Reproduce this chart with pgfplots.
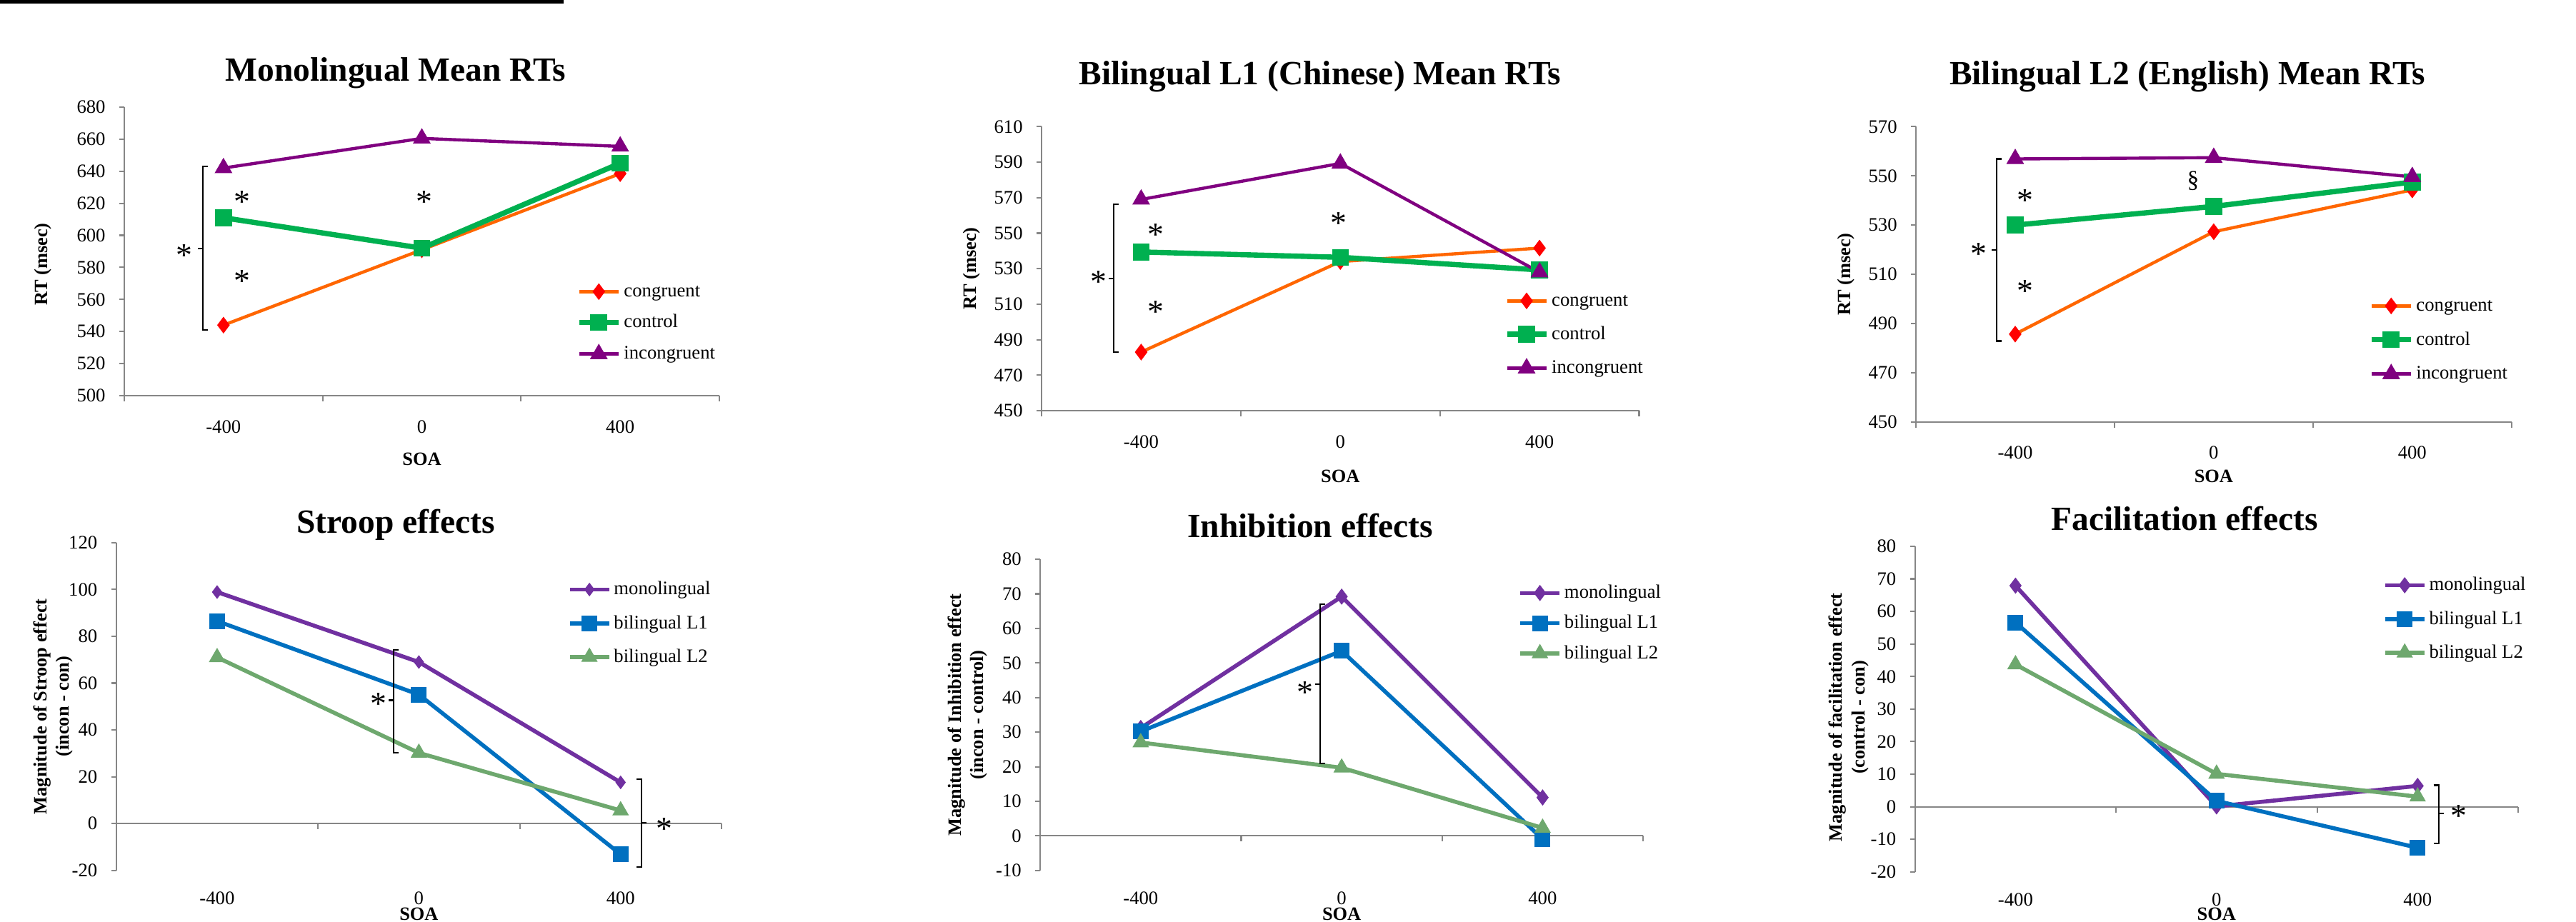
\documentclass[border=0pt]{standalone}
\usepackage{fontspec}
\setmainfont{Liberation Serif}
\usepackage{pgfplots}
\pgfplotsset{compat=1.18}
\definecolor{axgray}{RGB}{134,134,134}
\definecolor{corange}{RGB}{255,102,0}
\definecolor{cred}{RGB}{255,0,0}
\definecolor{cgreen}{RGB}{0,176,80}
\definecolor{cpurple}{RGB}{128,0,128}
\definecolor{bpurple}{RGB}{112,48,160}
\definecolor{bblue}{RGB}{0,112,192}
\definecolor{bgreen}{RGB}{110,168,110}
\newcommand\tk{\fontsize{7.6pt}{9pt}\selectfont}
\newcommand\lbl{\bfseries\fontsize{7.5pt}{9pt}\selectfont}
\newcommand\ttl{\bfseries\fontsize{13.5pt}{16pt}\selectfont}
\newcommand\ls{\vrule height 2.0mm depth 0.6mm width 0pt}
\tikzset{brk/.style={black, line width=0.6pt},
  star/.style={inner sep=0pt, anchor=center, yshift=-1.6pt, font=\fontsize{13pt}{13pt}\selectfont}}
% x axis line with ticks at category boundaries
\newcommand\xaxisline[1]{%
  \draw[axgray, line width=0.6pt] (axis cs:-0.5,#1) -- (axis cs:2.5,#1);
  \draw[axgray, line width=0.6pt] (axis cs:-0.5,#1) -- ([yshift=-0.8mm]axis cs:-0.5,#1);
  \draw[axgray, line width=0.6pt] (axis cs:0.5,#1) -- ([yshift=-0.8mm]axis cs:0.5,#1);
  \draw[axgray, line width=0.6pt] (axis cs:1.5,#1) -- ([yshift=-0.8mm]axis cs:1.5,#1);
  \draw[axgray, line width=0.6pt] (axis cs:2.5,#1) -- ([yshift=-0.8mm]axis cs:2.5,#1);}
% bracket opening right, middle tick left: x, top, bottom, mid
\newcommand\brR[4]{%
  \draw[brk] ([xshift=0.7mm]axis cs:#1,#2) -- (axis cs:#1,#2) -- (axis cs:#1,#3) -- ([xshift=0.7mm]axis cs:#1,#3);
  \draw[brk] (axis cs:#1,#4) -- ([xshift=-0.7mm]axis cs:#1,#4);}
% bracket opening left, middle tick right
\newcommand\brL[4]{%
  \draw[brk] ([xshift=-0.7mm]axis cs:#1,#2) -- (axis cs:#1,#2) -- (axis cs:#1,#3) -- ([xshift=-0.7mm]axis cs:#1,#3);
  \draw[brk] (axis cs:#1,#4) -- ([xshift=0.7mm]axis cs:#1,#4);}
\pgfplotsset{
  panel/.style={
    scale only axis, anchor=south west,
    axis x line*=bottom, axis y line*=left,
    x axis line style={draw=none},
    y axis line style={draw=axgray, line width=0.6pt},
    xmin=-0.5, xmax=2.5,
    xtick={0,1,2}, xticklabels={-400,0,400},
    x tick style={draw=none},
    y tick style={draw=axgray, line width=0.6pt},
    tick align=outside, major tick length=0.7mm,
    tick label style={font=\tk},
    /pgf/number format/assume math mode=true,
    yticklabel style={xshift=-0.7mm},
    xticklabel style={yshift=-1.5mm},
    clip=false,
    every axis title/.style={font=\ttl, anchor=base},
    every axis y label/.style={rotate=90, anchor=center, font=\lbl, align=center},
    every axis x label/.style={at={(axis description cs:0.5,0)}, anchor=center, font=\lbl},
    xlabel={SOA},
    legend style={draw=none, fill=none, inner sep=0pt, outer sep=0pt, anchor=west,
      font=\tk, nodes={inner sep=0pt}, column sep=0.4mm},
    legend cell align=left,
    legend image code/.code={\draw[mark repeat=2,mark phase=2] plot coordinates {(0mm,0mm) (2.75mm,0mm) (5.5mm,0mm)};},
  },
  lowpanel/.style={xticklabel style={yshift=0.45mm}, xlabel style={inner sep=0pt}},
  cong/.style={corange, line width=1.25pt, mark=diamond*, mark size=3.1pt, mark options={fill=cred, draw=cred, line width=0.3pt}},
  ctrl/.style={cgreen, line width=2.1pt, mark=square*, mark size=3.2pt, mark options={fill=cgreen, draw=cgreen, line width=0.3pt}},
  inc/.style={cpurple, line width=1.25pt, mark=triangle*, mark size=3.8pt, mark options={fill=cpurple, draw=cpurple, line width=0.3pt}},
  mono/.style={bpurple, line width=1.6pt, mark=diamond*, mark size=3.0pt, mark options={fill=bpurple, draw=bpurple, line width=0.3pt}},
  bone/.style={bblue, line width=1.6pt, mark=square*, mark size=3.0pt, mark options={fill=bblue, draw=bblue, line width=0.3pt}},
  btwo/.style={bgreen, line width=1.6pt, mark=triangle*, mark size=3.5pt, mark options={fill=bgreen, draw=bgreen, line width=0.3pt}},
}
\begin{document}
\begin{tikzpicture}
\fill[black] (0mm,129mm) rectangle (78.9mm,128.54mm);
% ---------------- Panel 1: Monolingual Mean RTs
\begin{axis}[panel, at={(17.4mm,73.6mm)}, width=83.3mm, height=40.4mm,
  ymin=500, ymax=680, ytick={500,520,...,680},
  title={Monolingual Mean RTs}, title style={at={(axis description cs:0.456,1)}, yshift=3.6mm},
  ylabel={RT (msec)}, ylabel style={at={(axis description cs:-0.137,0.455)}},
  xlabel style={yshift=-8.9mm},
  legend style={at={(axis description cs:0.760,0.2525)}, row sep=1.8mm}]
\xaxisline{500}
\addplot[cong] coordinates {(0,544) (1,591) (2,638.5)};
\addlegendentry{\ls congruent}
\addplot[ctrl] coordinates {(0,611) (1,592) (2,645)};
\addlegendentry{\ls control}
\addplot[inc] coordinates {(0,642) (1,660.5) (2,655.5)};
\addlegendentry{\ls incongruent}
\brR{-0.104}{642.9}{541.1}{591.6}
\node[star] at (axis cs:-0.196,590.2) {*};
\node[star] at (axis cs:0.093,623.5) {*};
\node[star] at (axis cs:0.093,573.8) {*};
\node[star] at (axis cs:1.013,623.5) {*};
\end{axis}
% ---------------- Panel 2: Bilingual L1
\begin{axis}[panel, at={(145.8mm,71.5mm)}, width=83.65mm, height=39.76mm,
  ymin=450, ymax=610, ytick={450,470,...,610},
  title={Bilingual L1 (Chinese) Mean RTs}, title style={at={(axis description cs:0.466,1)}, yshift=5.84mm},
  ylabel={RT (msec)}, ylabel style={at={(axis description cs:-0.117,0.5)}},
  xlabel style={yshift=-9.2mm},
  legend style={at={(axis description cs:0.7744,0.268)}, row sep=2.15mm}]
\xaxisline{450}
\addplot[cong] coordinates {(0,483) (1,534) (2,541.6)};
\addlegendentry{\ls congruent}
\addplot[ctrl] coordinates {(0,539.4) (1,536.4) (2,529.3)};
\addlegendentry{\ls control}
\addplot[inc] coordinates {(0,569) (1,589.3) (2,528)};
\addlegendentry{\ls incongruent}
\brR{-0.139}{566.3}{483}{524.6}
\node[star] at (axis cs:-0.215,525) {*};
\node[star] at (axis cs:0.074,551.3) {*};
\node[star] at (axis cs:0.074,508) {*};
\node[star] at (axis cs:0.99,558) {*};
\end{axis}
% ---------------- Panel 3: Bilingual L2
\begin{axis}[panel, at={(268.2mm,69.92mm)}, width=83.37mm, height=41.34mm,
  ymin=450, ymax=570, ytick={450,470,...,570},
  title={Bilingual L2 (English) Mean RTs}, title style={at={(axis description cs:0.456,1)}, yshift=5.84mm},
  ylabel={RT (msec)}, ylabel style={at={(axis description cs:-0.117,0.5)}},
  xlabel style={yshift=-7.6mm},
  legend style={at={(axis description cs:0.7605,0.2777)}, row sep=2.2mm}]
\xaxisline{450}
\addplot[cong] coordinates {(0,485.7) (1,527.3) (2,544.3)};
\addlegendentry{\ls congruent}
\addplot[ctrl] coordinates {(0,530) (1,537.6) (2,547.5)};
\addlegendentry{\ls control}
\addplot[inc] coordinates {(0,556.9) (1,557.4) (2,549.6)};
\addlegendentry{\ls incongruent}
\brR{-0.094}{556.9}{482.9}{519.8}
\node[star] at (axis cs:-0.183,519.8) {*};
\node[star] at (axis cs:0.05,541.8) {*};
\node[star] at (axis cs:0.05,504.8) {*};
\node[inner sep=0pt, anchor=center, font=\fontsize{9.5pt}{10pt}\selectfont] at (axis cs:0.896,547.9) {\S};
\end{axis}
% ---------------- Panel 4: Stroop effects
\begin{axis}[panel, lowpanel, at={(16.27mm,7.12mm)}, width=84.73mm, height=45.9mm,
  ymin=-20, ymax=120, ytick={-20,0,...,120},
  title={Stroop effects}, title style={at={(axis description cs:0.462,1)}, yshift=1.36mm},
  ylabel={Magnitude of Stroop effect\\(incon - con)}, ylabel style={at={(axis description cs:-0.104,0.5)}},
  xlabel style={yshift=-6.15mm},
  legend style={at={(axis description cs:0.746,0.754)}, row sep=2.2mm}]
\xaxisline{0}
\addplot[mono, mark size=2.5pt] coordinates {(0,98.9) (1,69) (2,17.6)};
\addlegendentry{\ls monolingual}
\addplot[bone] coordinates {(0,86.5) (1,55.1) (2,-13.1)};
\addlegendentry{\ls bilingual L1}
\addplot[btwo] coordinates {(0,71) (1,30.2) (2,5.6)};
\addlegendentry{\ls bilingual L2}
\brR{0.876}{74.1}{30.4}{52.7}
\node[star] at (axis cs:0.799,53) {*};
\brL{2.103}{18.9}{-18.5}{0.4}
\node[star] at (axis cs:2.215,-0.6) {*};
\end{axis}
% ---------------- Panel 5: Inhibition effects
\begin{axis}[panel, lowpanel, at={(145.62mm,7.12mm)}, width=84.38mm, height=43.57mm,
  ymin=-10, ymax=80, ytick={-10,0,...,80},
  title={Inhibition effects}, title style={at={(axis description cs:0.448,1)}, yshift=3.04mm},
  ylabel={Magnitude of Inhibition effect\\(incon - control)}, ylabel style={at={(axis description cs:-0.1205,0.5)}},
  xlabel style={yshift=-6.15mm},
  legend style={at={(axis description cs:0.793,0.7946)}, row sep=1.7mm}]
\xaxisline{0}
\addplot[mono] coordinates {(0,31.2) (1,69.2) (2,11.1)};
\addlegendentry{\ls monolingual}
\addplot[bone] coordinates {(0,30.2) (1,53.5) (2,-0.9)};
\addlegendentry{\ls bilingual L1}
\addplot[btwo] coordinates {(0,27) (1,19.7) (2,2.3)};
\addlegendentry{\ls bilingual L2}
\brR{0.892}{67}{20.9}{43.8}
\node[star] at (axis cs:0.817,42.6) {*};
\end{axis}
% ---------------- Panel 6: Facilitation effects
\begin{axis}[panel, lowpanel, at={(268.06mm,6.92mm)}, width=84.44mm, height=45.59mm,
  ymin=-20, ymax=80, ytick={-20,-10,...,80},
  title={Facilitation effects}, title style={at={(axis description cs:0.447,1)}, yshift=2.29mm},
  ylabel={Magnitude of facilitation effect\\(control - con)}, ylabel style={at={(axis description cs:-0.110,0.475)}},
  xlabel style={yshift=-5.95mm},
  legend style={at={(axis description cs:0.776,0.7766)}, row sep=2.2mm}]
\xaxisline{0}
\addplot[mono] coordinates {(0,67.9) (1,0.1) (2,6.4)};
\addlegendentry{\ls monolingual}
\addplot[bone] coordinates {(0,56.6) (1,1.8) (2,-12.6)};
\addlegendentry{\ls bilingual L1}
\addplot[btwo] coordinates {(0,43.7) (1,10.1) (2,3.1)};
\addlegendentry{\ls bilingual L2}
\brL{2.104}{6.6}{-11.3}{-2.1}
\node[star] at (axis cs:2.203,-1.7) {*};
\end{axis}
\pgfresetboundingbox
\path[use as bounding box] (0mm,0mm) rectangle (360.6mm,129mm);
\end{tikzpicture}
\end{document}
